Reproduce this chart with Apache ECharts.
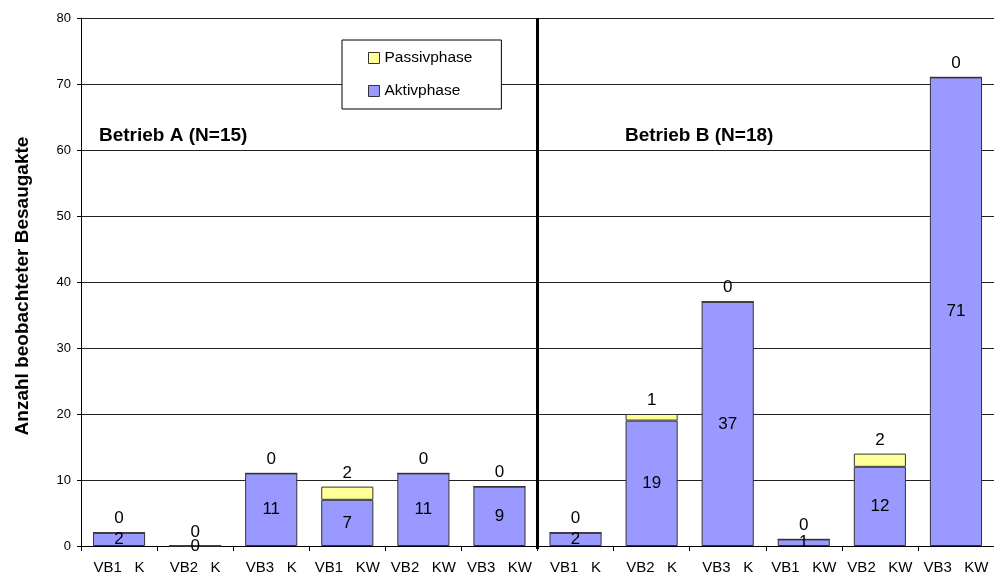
<!DOCTYPE html>
<html lang="de">
<head>
<meta charset="UTF-8">
<title>Besaugakte</title>
<script src="https://cdn.jsdelivr.net/npm/echarts@6/dist/echarts.min.js"></script>
<style>
  html, body { margin: 0; padding: 0; background: #fff; }
  #main { width: 994px; height: 578px; }
</style>
</head>
<body>
<div id="main"></div>
<script>
// Kategorien (Vorbehandlung / Kontrolle)
var categories = ["VB1   K", "VB2   K", "VB3   K", "VB1   KW", "VB2   KW", "VB3   KW",
                  "VB1   K", "VB2   K", "VB3   K", "VB1   KW", "VB2   KW", "VB3   KW"];
var aktiv   = [2, 0, 11, 7, 11, 9, 2, 19, 37, 1, 12, 71];
var passiv  = [0, 0, 0, 2, 0, 0, 0, 1, 0, 0, 2, 0];
var yTicks  = { min: 0, max: 80, interval: 10 };
var betriebe = ["Betrieb A (N=15)", "Betrieb B (N=18)"];

var font = "Liberation Sans, Arial, sans-serif";
var myChart = echarts.init(document.getElementById("main"));

myChart.setOption({
  animation: false,
  grid: { left: 81, top: 18, width: 917, height: 528 },
  legend: {
    data: ["Passivphase", "Aktivphase"],
    orient: "vertical",
    left: 342, top: 40,
    padding: [10, 29, 10, 26],
    itemWidth: 11, itemHeight: 11, itemGap: 17,
    borderColor: "#000", borderWidth: 1, backgroundColor: "#fff",
    icon: "rect",
    itemStyle: { borderColor: "#333", borderWidth: 1 },
    textStyle: { fontFamily: font, fontSize: 15.5, color: "#000" }
  },
  xAxis: {
    type: "category",
    data: categories,
    axisLine: { lineStyle: { color: "#000", width: 1 } },
    axisTick: { show: true, length: 5, lineStyle: { color: "#000" } },
    axisLabel: { fontFamily: font, fontSize: 15, color: "#000", margin: 14, interval: 0 }
  },
  yAxis: {
    type: "value",
    min: yTicks.min, max: yTicks.max, interval: yTicks.interval,
    axisLine: { show: true, lineStyle: { color: "#000", width: 1 } },
    axisTick: { show: true, length: 4, lineStyle: { color: "#000" } },
    axisLabel: { fontFamily: font, fontSize: 13, color: "#000", margin: 10 },
    splitLine: { lineStyle: { color: "#222", width: 1 } }
  },
  series: [
    {
      name: "Aktivphase", type: "bar", stack: "a",
      data: aktiv,
      barWidth: "68.5%",
      itemStyle: { color: "#9999FF", borderColor: "#333", borderWidth: 1 },
      label: { show: true, position: "inside", fontFamily: font, fontSize: 17, color: "#000" }
    },
    {
      name: "Passivphase", type: "bar", stack: "a",
      data: passiv,
      barWidth: "68.5%",
      itemStyle: { color: "#FFFF99", borderColor: "#333", borderWidth: 1 },
      label: { show: true, position: "top", distance: 5, fontFamily: font, fontSize: 17, color: "#000" }
    }
  ]
});

// Trennlinie zwischen Betrieb A und B, Beschriftungen
var xa = myChart.convertToPixel({ xAxisIndex: 0 }, 5);
var xb = myChart.convertToPixel({ xAxisIndex: 0 }, 6);
var xSep = (xa + xb) / 2;
var yTop = myChart.convertToPixel({ yAxisIndex: 0 }, 80);
var yBot = myChart.convertToPixel({ yAxisIndex: 0 }, 0);
var yText = myChart.convertToPixel({ yAxisIndex: 0 }, 62.2);

myChart.setOption({
  graphic: [
    { type: "line", shape: { x1: xSep, y1: yTop, x2: xSep, y2: yBot + 3 },
      style: { stroke: "#000", lineWidth: 3 }, z: 10 },
    { type: "text", x: 99, y: yText,
      style: { text: betriebe[0], fontFamily: font, fontSize: 19, fontWeight: "bold", fill: "#000", verticalAlign: "middle" } },
    { type: "text", x: 625, y: yText,
      style: { text: betriebe[1], fontFamily: font, fontSize: 19, fontWeight: "bold", fill: "#000", verticalAlign: "middle" } },
    { type: "text", x: 23, y: 286, rotation: Math.PI / 2,
      style: { text: "Anzahl beobachteter Besaugakte", fontFamily: font, fontSize: 19, fontWeight: "bold",
               fill: "#000", align: "center", verticalAlign: "middle" } }
  ]
});
</script>
</body>
</html>
